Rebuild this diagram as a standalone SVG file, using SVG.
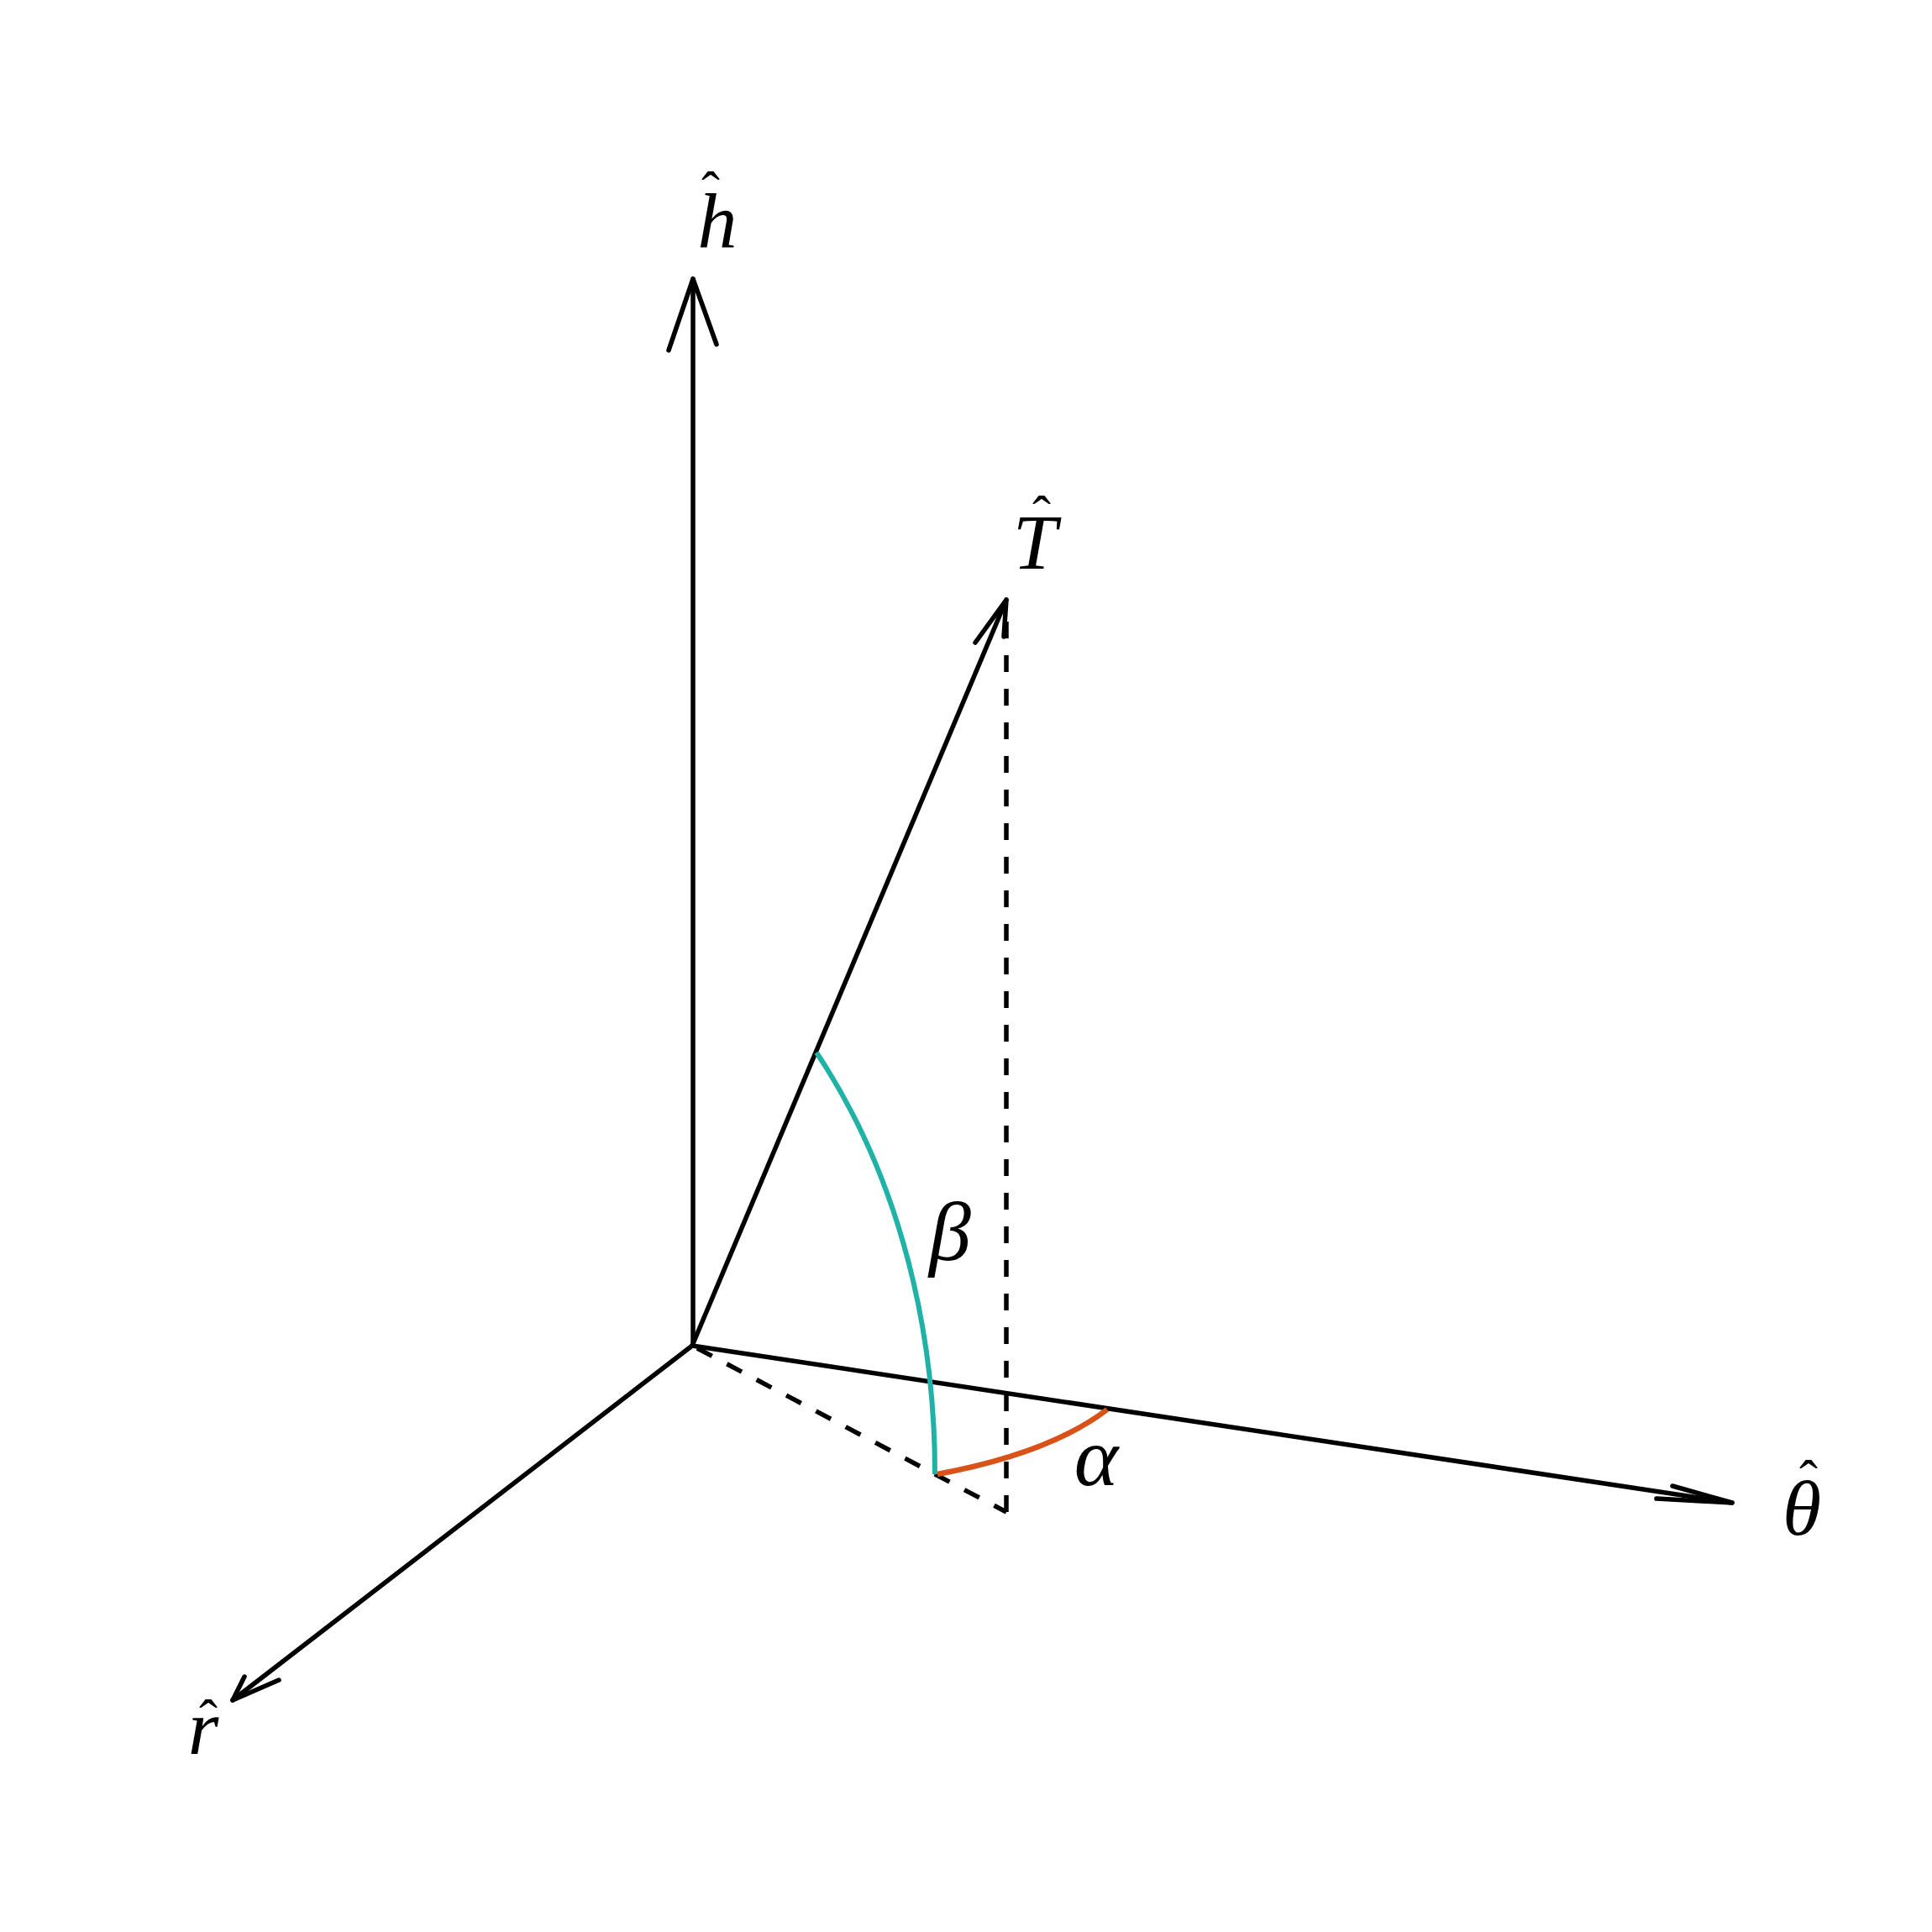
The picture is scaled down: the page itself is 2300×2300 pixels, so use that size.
<svg xmlns="http://www.w3.org/2000/svg" width="2300" height="2300" viewBox="0 0 2300 2300">
<style>
.ax{fill:none;stroke:#000;stroke-width:5.5;stroke-linecap:round;stroke-linejoin:round}
.dash{fill:none;stroke:#000;stroke-width:5.5;stroke-dasharray:20 20}
.lbl{font-family:"Liberation Serif","DejaVu Serif",serif;font-style:italic;fill:#000;text-anchor:middle}
.hat{font-family:"Liberation Serif","DejaVu Serif",serif;fill:#000;text-anchor:middle;font-size:66px}
</style>
<rect width="2300" height="2300" fill="#fff"/>
<g id="connectors">
  <line class="dash" x1="1198" y1="740" x2="1198" y2="1800"/>
  <line class="dash" x1="830" y1="1605" x2="1198" y2="1800"/>
  <line class="ax" x1="825" y1="1602" x2="825" y2="332"/>
  <polyline class="ax" points="796,417 825,332 853,410"/>
  <line class="ax" x1="824" y1="1602" x2="1198" y2="714"/>
  <polyline class="ax" points="1161,765 1198,714 1195,758"/>
  <line class="ax" x1="824" y1="1602" x2="2062" y2="1789"/>
  <polyline class="ax" points="1991,1769 2062,1789 1972,1784"/>
  <line class="ax" x1="824" y1="1602" x2="277" y2="2024"/>
  <polyline class="ax" points="291,1996 277,2024 332,2000"/>
  <path d="M972,1253 C1060,1385 1113,1560 1113,1755" fill="none" stroke="#20B2A6" stroke-width="6"/>
  <path d="M1116,1755 Q1250,1730 1318,1678" fill="none" stroke="#D95319" stroke-width="6.5"/>
</g>
<g id="label-h"><text class="hat" x="846" y="250">ˆ</text><text class="lbl" x="854" y="295" font-size="94">h</text></g>
<g id="label-T"><text class="hat" x="1240" y="636">ˆ</text><text class="lbl" x="1232" y="677" font-size="94">T</text></g>
<g id="label-theta"><text class="hat" x="2153" y="1784">ˆ</text><text class="lbl" x="2145" y="1827" font-size="94">θ</text></g>
<g id="label-r"><text class="hat" x="248" y="2069">ˆ</text><text class="lbl" x="242" y="2088" font-size="94">r</text></g>
<g id="label-beta"><text class="lbl" x="1131" y="1500" font-size="100">β</text></g>
<g id="label-alpha"><text class="lbl" x="1305" y="1768" font-size="100">α</text></g>
</svg>
